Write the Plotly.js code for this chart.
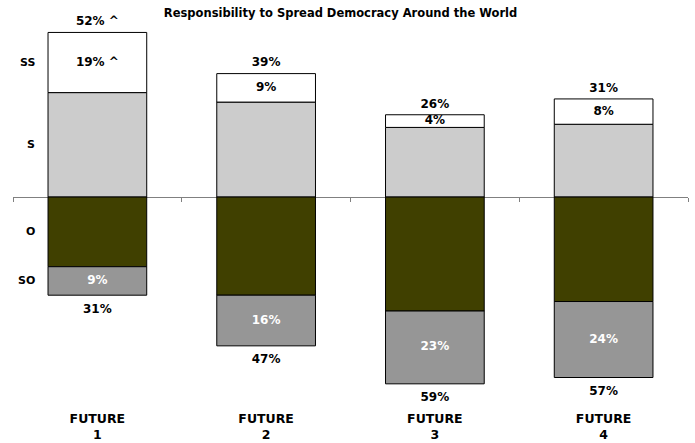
<!DOCTYPE html>
<html>
<head>
<meta charset="utf-8">
<script src="https://cdn.plot.ly/plotly-3.0.1.min.js"></script>
<style>
  html, body { margin: 0; padding: 0; background: #fff; }
  #chart { width: 695px; height: 443px; }
</style>
</head>
<body>
<div id="chart"></div>
<script>
// Category labels along the bottom
const categories = ['FUTURE<br>1', 'FUTURE<br>2', 'FUTURE<br>3', 'FUTURE<br>4'];

// Positive side (percent): S and SS stacked upward
const sValues = [33, 30, 22, 23];
const ssValues = [19, 9, 4, 8];
// Negative side (percent): O and SO stacked downward
const oValues = [22, 31, 36, 33];
const soValues = [9, 16, 23, 24];
// Footnote marker shown next to some values
const marks = ['^', '', '', ''];

// Series labels shown at the left edge
const seriesNames = ['SS', 'S', 'O', 'SO'];

const FONT = 'DejaVu Sans, Arial, sans-serif';

const posTotals = sValues.map((v, i) => v + ssValues[i]);
const negTotals = oValues.map((v, i) => v + soValues[i]);
const pct = (v, m) => v + '%' + (m ? ' ' + m : '');

const barLine = { color: '#000000', width: 1 };
const labelFont = (color) => ({ family: FONT, size: 12, color: color, weight: 'bold' });

const traces = [
  { type: 'bar', name: 'S', x: categories, y: sValues,
    marker: { color: '#cccccc', line: barLine }, hoverinfo: 'skip' },
  { type: 'bar', name: 'SS', x: categories, y: ssValues,
    marker: { color: '#ffffff', line: barLine }, hoverinfo: 'skip' },
  { type: 'bar', name: 'O', x: categories, y: oValues.map(v => -v),
    marker: { color: '#404000', line: barLine }, hoverinfo: 'skip' },
  { type: 'bar', name: 'SO', x: categories, y: soValues.map(v => -v),
    marker: { color: '#969696', line: barLine }, hoverinfo: 'skip' },
  // SS segment values
  { type: 'scatter', mode: 'text', x: categories, cliponaxis: false,
    y: sValues.map((v, i) => v + ssValues[i] / 2),
    text: ssValues.map((v, i) => pct(v, marks[i])),
    textfont: labelFont('#000000'), textposition: 'middle center', hoverinfo: 'skip' },
  // positive totals above bars
  { type: 'scatter', mode: 'text', x: categories, cliponaxis: false,
    y: posTotals.map(v => v + 3.2),
    text: posTotals.map((v, i) => pct(v, marks[i])),
    textfont: labelFont('#000000'), textposition: 'middle center', hoverinfo: 'skip' },
  // SO segment values
  { type: 'scatter', mode: 'text', x: categories, cliponaxis: false,
    y: oValues.map((v, i) => -(v + soValues[i] / 2)),
    text: soValues.map(v => pct(v)),
    textfont: labelFont('#ffffff'), textposition: 'middle center', hoverinfo: 'skip' },
  // negative totals below bars
  { type: 'scatter', mode: 'text', x: categories, xaxis: 'x2', cliponaxis: false,
    y: negTotals.map(v => -v - 4.6),
    text: negTotals.map(v => pct(v)),
    textfont: labelFont('#000000'), textposition: 'middle center', hoverinfo: 'skip' }
];

// Series labels placed beside the first bar's segments
const firstMid = [
  sValues[0] + ssValues[0] / 2,
  sValues[0] / 2,
  -oValues[0] / 2,
  -(oValues[0] + soValues[0] / 2)
];
const annotations = seriesNames.map((name, i) => ({
  text: name, x: -0.36, y: firstMid[i], xref: 'x', yref: 'y',
  xanchor: 'right', yanchor: 'middle', showarrow: false,
  font: { family: FONT, size: 11, color: '#000000', weight: 'bold' }
}));

const yMin = -66, yMax = 55.3;
const zeroPos = (0 - yMin) / (yMax - yMin);

const layout = {
  width: 695, height: 443,
  margin: { l: 13, r: 7, t: 22, b: 37 },
  paper_bgcolor: '#ffffff', plot_bgcolor: '#ffffff',
  barmode: 'relative', bargap: 0.415,
  showlegend: false,
  title: {
    text: 'Responsibility to Spread Democracy Around the World',
    font: { family: FONT, size: 11.5, color: '#000000', weight: 'bold' },
    x: 0.49, xanchor: 'center', y: 0.97, yanchor: 'middle'
  },
  xaxis: {
    type: 'category', range: [-0.5, 3.5], fixedrange: true,
    showline: false, showgrid: false, zeroline: false, ticks: '',
    ticklabelstandoff: 3,
    tickfont: { family: FONT, size: 12.5, color: '#000000', weight: 'bold' }
  },
  xaxis2: {
    type: 'category', overlaying: 'x', matches: 'x', anchor: 'free',
    position: zeroPos, side: 'bottom', layer: 'below traces',
    showline: true, linecolor: '#808080', linewidth: 1,
    ticks: 'outside', ticklen: 4, tickcolor: '#808080', tickson: 'boundaries',
    showticklabels: false, showgrid: false, zeroline: false
  },
  yaxis: {
    range: [yMin, yMax], fixedrange: true,
    showline: false, showgrid: false, zeroline: false,
    showticklabels: false, ticks: ''
  },
  annotations: annotations
};

Plotly.newPlot('chart', traces, layout, { displayModeBar: false, staticPlot: true });
</script>
</body>
</html>
